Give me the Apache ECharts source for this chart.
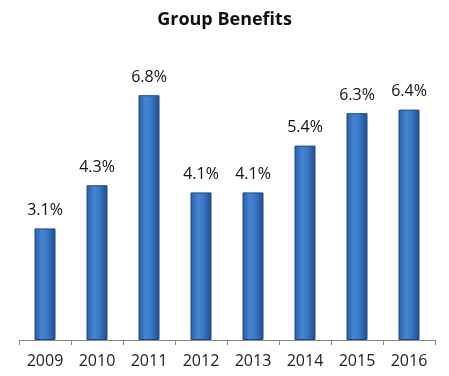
<!DOCTYPE html>
<html>
<head>
<meta charset="utf-8">
<script src="https://cdn.jsdelivr.net/npm/echarts@6/dist/echarts.min.js"></script>
<style>
  html, body { margin: 0; padding: 0; background: #fff; }
  #main { width: 449px; height: 376px; }
</style>
</head>
<body>
<div id="main"></div>
<script>
var years = ['2009', '2010', '2011', '2012', '2013', '2014', '2015', '2016'];
var benefits = [3.1, 4.3, 6.8, 4.1, 4.1, 5.4, 6.3, 6.4];

var myChart = echarts.init(document.getElementById('main'));
var option = {
    title: {
        text: 'Group Benefits',
        left: 'center',
        top: 6,
        textStyle: { fontSize: 18, fontWeight: 'bold', color: '#111', fontFamily: 'Open Sans' }
    },
    grid: {
        left: 19,
        right: 14,
        top: 52,
        bottom: 36
    },
    xAxis: {
        type: 'category',
        data: years,
        axisLine: { lineStyle: { color: '#888', width: 1 } },
        axisTick: { show: true, length: 5, lineStyle: { color: '#888' } },
        axisLabel: { fontSize: 16, color: '#222', margin: 13, fontFamily: 'Open Sans' }
    },
    yAxis: {
        type: 'value',
        min: 0,
        max: 8,
        show: false
    },
    series: [{
        type: 'bar',
        data: benefits,
        barWidth: 21,
        itemStyle: {
            borderColor: '#1d4a86',
            borderWidth: 1,
            color: new echarts.graphic.LinearGradient(0, 0, 1, 0, [
                { offset: 0, color: '#2a5ca3' },
                { offset: 0.35, color: '#4584d4' },
                { offset: 0.6, color: '#3b78c6' },
                { offset: 1, color: '#234d8c' }
            ])
        },
        label: {
            show: true,
            position: 'top',
            distance: 10,
            fontSize: 16,
            color: '#111',
            fontFamily: 'Open Sans',
            formatter: function (p) { return p.value.toFixed(1) + '%'; }
        }
    }]
};
myChart.setOption(option);
</script>
</body>
</html>
